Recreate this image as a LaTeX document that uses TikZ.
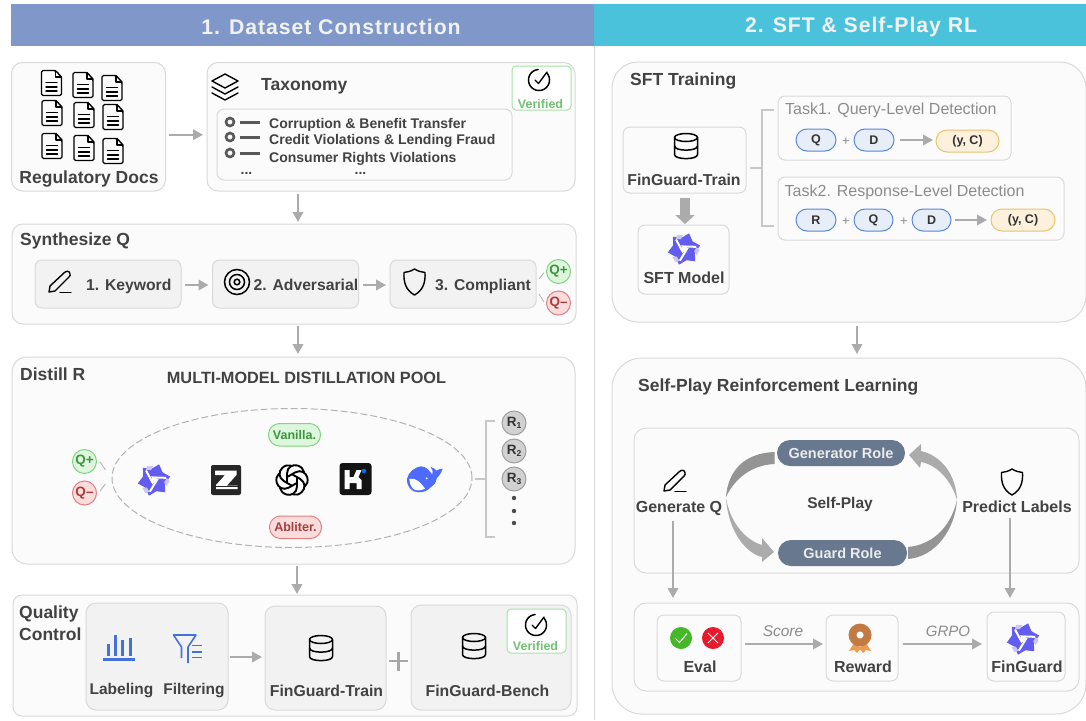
\documentclass[tikz,border=0pt]{standalone}
\usepackage{fontspec}
\setmainfont{Liberation Sans}
\newfontfamily\hdrfont[LetterSpace=4.5]{Liberation Sans}
\usetikzlibrary{arrows.meta,shapes.geometric,calc}
\definecolor{txtc}{HTML}{424242}
\definecolor{panelb}{HTML}{D9D9D9}
\definecolor{panelf}{HTML}{FBFBFB}
\definecolor{innerf}{HTML}{F2F2F2}
\definecolor{arrc}{HTML}{ABABAB}
\definecolor{qwenc}{HTML}{625CF0}
\definecolor{blueic}{HTML}{4472D8}
\definecolor{greenb}{HTML}{7FD67F}
\definecolor{greenf}{HTML}{DDF6DD}
\definecolor{greent}{HTML}{3C963C}
\definecolor{redb}{HTML}{E28080}
\definecolor{redf}{HTML}{FBDCDC}
\definecolor{redt}{HTML}{A63C3C}
\definecolor{roleb}{HTML}{67788F}
\definecolor{h1c}{HTML}{7F97C9}
\definecolor{h2c}{HTML}{4BC2DB}
\definecolor{pillb}{HTML}{5A86D8}
\definecolor{pillf}{HTML}{E8EEF8}
\definecolor{ypb}{HTML}{E8C36A}
\definecolor{ypf}{HTML}{FDF0DC}
\definecolor{whalec}{HTML}{4D6BFE}
\definecolor{medalc}{HTML}{C27A42}
\definecolor{ribbonc}{HTML}{F09A50}
\definecolor{kdot}{HTML}{0A6CFF}
\definecolor{okc}{HTML}{45B82A}
\definecolor{noc}{HTML}{E8192C}
\newcommand\fsz[1]{\fontsize{#1}{#1}\selectfont}
\newcommand\bx[7][]{%
  \pgfmathsetmacro\bw{#5-#3}\pgfmathsetmacro\bh{#6-#4}%
  \node[#1,anchor=north west,minimum width=\bw pt,minimum height=\bh pt,inner sep=0pt,outer sep=0pt] (#2) at (#3,#4) {#7};}
\tikzset{
  x=1pt,y=-1pt,
  panel/.style={draw=panelb,fill=panelf,line width=1pt,rounded corners=11pt},
  bigpanel/.style={draw=panelb,fill=panelf,line width=1pt,rounded corners=26pt},
  inner/.style={draw=panelb,fill=innerf,line width=1pt,rounded corners=7pt},
  whitebox/.style={draw=panelb,fill=panelf,line width=1pt,rounded corners=7pt},
  verbox/.style={draw=greenb!70,fill=white,line width=1pt,rounded corners=4pt},
  t/.style={text=txtc,font=\bfseries\fsz{16},inner sep=0pt,anchor=mid,yshift=-3pt},
  tw/.style={t,anchor=mid west},
  arr/.style={draw=arrc,line width=2pt,-{Triangle[length=10pt,width=10.5pt]}},
  qp/.style={circle,draw=greenb,fill=greenf,text=greent,line width=1pt,font=\bfseries\fsz{13.5},minimum size=24pt,inner sep=0pt},
  qm/.style={circle,draw=redb,fill=redf,text=redt,line width=1pt,font=\bfseries\fsz{13.5},minimum size=24pt,inner sep=0pt},
  rc/.style={circle,draw=gray!75,fill=black!18,text=black!80,font=\bfseries\fsz{13.5},line width=1pt,minimum size=24pt,inner sep=0pt},
  bp/.style={draw=pillb,fill=pillf,line width=1pt,rounded corners=11pt,font=\bfseries\fsz{12.5},text=black!80},
  yp/.style={draw=ypb,fill=ypf,line width=1pt,rounded corners=11pt,font=\bfseries\fsz{12.5},text=black!80},
  role/.style={fill=roleb,rounded corners=13pt,text=white!92!black,font=\bfseries\fsz{14.5}},
  ic/.style={draw=black,line width=1.4pt,line join=round,line cap=round},
  pics/docicon/.style={code={
    \draw[ic,rounded corners=1.5pt] (-10,-12.5)--(4,-12.5)--(10,-6)--(10,12.5)--(-10,12.5)--cycle;
    \draw[ic] (4,-12.5)--(4,-6)--(10,-6) (-5.5,-0.5)--(5.5,-0.5) (-5.5,3.8)--(5.5,3.8) (-5.5,8)--(5.5,8);}},
  pics/layers/.style={code={
    \draw[ic] (0,-13)--(13,-6)--(0,1)--(-13,-6)--cycle (-13,0)--(0,7)--(13,0) (-13,6)--(0,13)--(13,6);}},
  pics/vercheck/.style={code={
    \draw[ic,line width=1.5pt] plot[smooth,samples=40,domain=-40:265] ({10.5*cos(\x)},{10.5*sin(\x)});
    \draw[ic,line width=1.4pt] (-4,0)--(-0.5,3.5)--(8,-8);}},
  pics/penicon/.style={code={
    \draw[ic] (-11,10)--(-10,4)--(4.5,-9.5) .. controls (6.5,-11.5) and (10,-11) .. (10,-8) .. controls (10.5,-7) and (10,-6) .. (9,-5)--(-5,9)--cycle;
    \draw[ic] (0,10.5)--(11,10.5);}},
  pics/targeticon/.style={code={
    \draw[black,line width=1.5pt] (0,0) circle (12.5pt) (0,0) circle (7.5pt) (0,0) circle (2.8pt);}},
  pics/shieldicon/.style={code={
    \draw[ic] (0,-13) .. controls (4,-10.5) and (7,-10) .. (10.5,-9.5) .. controls (11,0) and (9,8) .. (0,13) .. controls (-9,8) and (-11,0) .. (-10.5,-9.5) .. controls (-7,-10) and (-4,-10.5) .. (0,-13)--cycle;}},
  pics/dbicon/.style={code={
    \draw[ic,line width=1.5pt] (0,-8.5) ellipse (11.5pt and 4pt);
    \draw[ic,line width=1.5pt] (-11.5,-8.5)--(-11.5,8.5) .. controls (-11.5,14) and (11.5,14) .. (11.5,8.5)--(11.5,-8.5);
    \draw[ic,line width=1.5pt] (-11.5,0) .. controls (-11.5,5.5) and (11.5,5.5) .. (11.5,0);}},
  pics/qwen/.style={code={
    \fill[qwenc,rotate=12] plot[samples at={0,30,...,330}] ({(14+2.5*cos(6*\x))*cos(\x)},{(14+2.5*cos(6*\x))*sin(\x)})--cycle;
    \foreach \a in {0,120,240}{
      \draw[white,line width=2pt,rotate=\a] (-8,-9.5)--(-1.5,2.5)--(2.5,-3);
      \fill[qwenc!35!white,rotate=\a] (-7,-14)--(-1,-14)--(-3,-10)--(-8,-10)--cycle;}}},
  pics/zlogo/.style={code={
    \fill[black!85,rounded corners=2pt] (-15,-15) rectangle (15,15);
    \fill[white] (-11,-9.5)--(10.5,-9.5)--(10.5,-5)--(1,5.5)--(11.5,5.5)--(11.5,9)--(-10,9)--(-10,5)--(-1,-5)--(-11,-5)--cycle;
    \fill[black!85] (-10,6.3) rectangle (11.5,7.1);}},
  pics/gptlogo/.style={code={
    \foreach \a in {0,60,...,300}{
      \draw[black,line width=1.9pt,rotate=\a,line cap=round] (-5,3)--(-5,-6.5) .. controls (-5,-13) and (1,-16) .. (5.5,-14.5) .. controls (9,-13.5) and (11.5,-11) .. (12,-8);}}},
  pics/klogo/.style={code={
    \fill[black!92,rounded corners=3pt] (-16,-16) rectangle (16,16);
    \fill[white] (-11,-9)--(-6,-9)--(-6,-2)--(-2,-2)--(1,-9)--(6,-9)--(3,-2)--(6,1)--(6,10)--(1,10)--(1,4)--(-6,4)--(-6,10)--(-11,10)--cycle;
    \fill[kdot] (8.5,-8) circle (2.2pt);}},
  pics/whale/.style={code={
    \begin{scope}[scale=.3333,shift={(-75,-75)}]
    \fill[whalec] (21,72) .. controls (24,52) and (45,36) .. (62,34) .. controls (78,33) and (90,48) .. (97,60) .. controls (101,52) and (97,42) .. (92,36) .. controls (100,38) and (106,42) .. (110,47) .. controls (115,43) and (121,41) .. (128,41) .. controls (124,54) and (116,64) .. (110,70) .. controls (108,85) and (100,92) .. (92,97) .. controls (84,106) and (72,112) .. (55,112) .. controls (35,112) and (20,95) .. (21,72)--cycle;
    \fill[white] (28,72) .. controls (45,66) and (62,82) .. (75,101) .. controls (62,108) and (46,108) .. (38,100) .. controls (31,93) and (28,82) .. (28,72)--cycle;
    \fill[white] (80,70) circle (3pt);
    \end{scope}}},
  pics/medal/.style={code={
    \fill[ribbonc] (-6,8)--(1,13)--(-3,18)--(-6,15)--(-11,16)--cycle;
    \fill[ribbonc] (6,8)--(-1,13)--(3,18)--(6,15)--(11,16)--cycle;
    \fill[medalc] (0,0) circle (11.5pt);
    \fill[white] plot[samples at={0,36,...,324}] ({(3.5+2*cos(5*(\x+90)))*cos(\x)},{(3.5+2*cos(5*(\x+90)))*sin(\x)})--cycle;}},
}
\begin{document}
\begin{tikzpicture}
\useasboundingbox (0,0) rectangle (1086,720);
\fill[white] (0,0) rectangle (1086,720);
\begin{scope}
\clip (0,0) rectangle (1086,720);
% headers
\bx[fill=h1c]{h1}{11}{4}{594}{46}{}
\bx[fill=h2c]{h2}{594}{4}{1086}{46}{}
\node[inner sep=0pt,text=white!95!black] (h1t) at (331,27) {\hdrfont\bfseries\fsz{21.2}1. Dataset Construction};
\node[inner sep=0pt,text=white!95!black] (h2t) at (861,27) {\hdrfont\bfseries\fsz{21.2}2. SFT \& Self-Play RL};
\draw[panelb,line width=.8pt] (594.5,46)--(594.5,720);

% Regulatory Docs
\bx[panel]{docs}{11.5}{62.5}{165.5}{191}{}
\pic at (51.5,83) {docicon}; \pic at (83,85) {docicon}; \pic at (112,88) {docicon};
\pic at (52,113) {docicon}; \pic at (84,115) {docicon}; \pic at (113,117) {docicon};
\pic at (52,146) {docicon}; \pic at (84,148) {docicon}; \pic at (113,151) {docicon};
\node[t,font=\bfseries\fsz{17.5}] (docst) at (89,178) {Regulatory Docs};

% Taxonomy
\bx[panel]{tax}{207}{62.5}{575}{191}{}
\pic at (225,87) {layers};
\node[tw,font=\bfseries\fsz{17.5}] (taxt) at (261,85) {Taxonomy};
\bx[whitebox,fill=panelf]{list}{217}{109}{512}{180}{}
\bx[verbox]{ver1}{512}{66}{571}{110}{}
\pic at (539,80) {vercheck};
\node[t,text=greenb!90!black,font=\bfseries\fsz{12.5}] (ver1t) at (540.5,102.5) {Verified};
\foreach \yy in {122,137,153}{
  \draw[black!65,line width=2.6pt] (230,\yy) circle (4pt);
  \draw[black!65,line width=3pt] (240,\yy)--(260,\yy);
}
\node[tw,font=\bfseries\fsz{14}] (l1) at (269,123) {Corruption \& Benefit Transfer};
\node[tw,font=\bfseries\fsz{14}] (l2) at (269,139) {Credit Violations \& Lending Fraud};
\node[tw,font=\bfseries\fsz{14}] (l3) at (269,157) {Consumer Rights Violations};
\node[t,font=\bfseries\fsz{14}] (l4) at (246.5,169) {...};
\node[t,font=\bfseries\fsz{14}] (l5) at (360.5,169) {...};

% Synthesize
\bx[panel]{syn}{12}{224}{576}{324}{}
\node[tw,font=\bfseries\fsz{17.5}] (synt) at (20,240) {Synthesize Q};
\bx[inner]{k1}{35}{260}{181}{308}{}
\bx[inner]{k2}{212.5}{260}{358.5}{308}{}
\bx[inner]{k3}{390}{260}{536}{308}{}
\pic at (60,282) {penicon};
\pic at (237,282) {targeticon};
\pic at (414.5,282) {shieldicon};
\node[tw,font=\bfseries\fsz{15.7}] (k1t) at (86,285) {1. Keyword};
\node[tw,font=\bfseries\fsz{15.7}] (k2t) at (253.5,285) {2. Adversarial};
\node[tw,font=\bfseries\fsz{15.7}] (k3t) at (435,285) {3. Compliant};
\node[qp] (qp1) at (558.5,271.5) {Q+};
\node[qm] (qm1) at (558.5,303) {Q–};
\draw[black!30,line width=.8pt] (539,279)--(544,272.5) (539,294)--(544,302);

% Distill
\bx[panel,rounded corners=15pt]{dist}{12}{357}{575}{564}{}
\node[tw,font=\bfseries\fsz{17.5}] (distt) at (20,375) {Distill R};
\node[t,font=\bfseries\fsz{16.3}] (poolt) at (306.5,378) {MULTI-MODEL DISTILLATION POOL};
\node[ellipse,draw=black!30,line width=1pt,dash pattern=on 7pt off 3pt,minimum width=360pt,minimum height=139pt,inner sep=0pt] (pool) at (292,478) {};
\bx[draw=greenb,fill=greenf,line width=1pt,rounded corners=11pt,text=greent,font=\bfseries\fsz{12.5}]{van}{268.5}{423.5}{320.5}{446}{Vanilla.}
\bx[draw=redb,fill=redf,line width=1pt,rounded corners=11pt,text=redt,font=\bfseries\fsz{12.5}]{abl}{269.5}{516}{321.5}{538.5}{Abliter.}
\node[qp] (qp2) at (84.5,461.5) {Q+};
\node[qm] (qm2) at (84.5,493) {Q–};
\draw[black!30,line width=.8pt] (100,462)--(105.5,470) (105.5,484)--(100,491);
\pic at (154,480) {qwen};
\pic at (226,480) {zlogo};
\pic at (292,480) {gptlogo};
\pic at (355.5,479) {klogo};
\pic at (425,480) {whale};
\draw[black!22,line width=2pt] (475,479)--(486,479) (495,421)--(486,421)--(486,537)--(495,537);
\node[rc] (r1) at (514,423) {R\raisebox{-2.5pt}{\fsz{8.5}1}};
\node[rc] (r2) at (514,451) {R\raisebox{-2.5pt}{\fsz{8.5}2}};
\node[rc] (r3) at (514,479) {R\raisebox{-2.5pt}{\fsz{8.5}3}};
\foreach \yy in {498,511,523}{\fill[black!70] (514,\yy) circle (2.2pt);}

% Quality control
\bx[panel,rounded corners=9pt]{qc}{13}{595}{577}{716}{}
\node[t,anchor=mid west,font=\bfseries\fsz{17.5}] (qct1) at (19,613) {Quality};
\node[t,anchor=mid west,font=\bfseries\fsz{17.5}] (qct2) at (19,635) {Control};
\bx[inner,rounded corners=10pt]{lab}{86}{603}{228}{710}{}
\bx[inner,rounded corners=10pt]{train}{265}{606}{386}{710}{}
\bx[inner,rounded corners=10pt]{bench}{411}{605}{571}{710}{}
\bx[verbox]{ver2}{507}{609}{566}{653}{}
\pic at (536,625) {vercheck};
\node[t,text=greenb!90!black,font=\bfseries\fsz{12.5}] (ver2t) at (535.5,645) {Verified};
\fill[blueic] (103,657.5) rectangle (135,660.5);
\foreach \xx/\yy in {108/643.5,115/635,122.8/640,130/637.5}{\fill[blueic] (\xx-1.5,\yy) rectangle (\xx+1.5,655.5);}
\draw[blueic,line width=1.6pt,line join=round] (181.5,658)--(181.5,647)--(173.5,635)--(196,635)--(188,647)--(188,663);
\draw[blueic,line width=1.6pt] (192,645.5)--(201.5,645.5) (192,652)--(201.5,652) (192,657.5)--(201.5,657.5);
\pic at (321,648) {dbicon};
\pic at (474,646) {dbicon};
\node[t,font=\bfseries\fsz{15.5}] (labt) at (121.5,689) {Labeling};
\node[t,font=\bfseries\fsz{15.5}] (filt) at (194,689) {Filtering};
\node[t,font=\bfseries\fsz{15.8}] (trt) at (326.5,691) {FinGuard-Train};
\node[t,font=\bfseries\fsz{15.8}] (bet) at (487.5,691) {FinGuard-Bench};
\draw[black!35,line width=2.4pt] (389,661)--(408,661) (398.5,651.5)--(398.5,670.5);

% left connectors
\coordinate (cola) at (298,0);
\coordinate (colb) at (297,0);
\coordinate (rowq) at (0,657);
\draw[arr] ([xshift=3pt,yshift=-8pt]docs.east)--([xshift=-4pt,yshift=-8pt]tax.west);
\draw[arr] ([yshift=-3pt]tax.south -| cola)--([yshift=2pt]syn.north -| cola);
\draw[arr] ([xshift=4pt,yshift=-1pt]k1.east)--([xshift=-4pt,yshift=-1pt]k2.west);
\draw[arr] ([xshift=4pt,yshift=-1pt]k2.east)--([xshift=-4pt,yshift=-1pt]k3.west);
\draw[arr] ([yshift=-2pt]syn.south -| cola)--([yshift=3pt]dist.north -| cola);
\draw[arr] ([yshift=-2pt]dist.south -| colb)--([yshift=1pt]qc.north -| colb);
\draw[arr] ([xshift=1.5pt]lab.east |- rowq)--([xshift=-3pt]train.west |- rowq);

% SFT panel
\bx[bigpanel]{sft}{612}{62}{1086}{322}{}
\node[tw,font=\bfseries\fsz{17.5}] (sftt) at (630,80) {SFT Training};
\bx[whitebox]{fgt}{623}{127}{746}{193}{}
\pic at (686,146) {dbicon};
\node[t,font=\bfseries\fsz{15.8}] (fgtt) at (684,180) {FinGuard-Train};
\bx[whitebox]{sftm}{638}{225}{729}{294}{}
\pic at (684,249) {qwen};
\node[t,font=\bfseries\fsz{16}] (sftmt) at (684,278) {SFT Model};
\draw[draw=arrc,line width=9.5pt,-{Triangle[length=9pt,width=19pt]}] ([xshift=.5pt,yshift=-5pt]fgt.south)--([xshift=1.5pt,yshift=1pt]sftm.north);
\draw[black!22,line width=2pt] (750,168)--(762,168) (774,110)--(762,110)--(762,226)--(774,226);
\bx[whitebox]{tk1}{778}{96}{1011}{160}{}
\bx[whitebox]{tk2}{778}{177}{1064}{240}{}
\node[tw,text=black!45,font=\fsz{16}] (tk1t) at (785,109) {Task1. Query-Level Detection};
\node[tw,text=black!45,font=\fsz{16}] (tk2t) at (784.5,191) {Task2. Response-Level Detection};
\bx[bp]{pq1}{796}{129}{836}{151}{Q}
\bx[bp]{pd1}{854}{129}{894}{151}{D}
\bx[yp]{py1}{936}{130}{999}{152}{(y, C)}
\node[text=black!45,font=\fsz{13},inner sep=0pt] (pl1) at (846,141.5) {+};
\draw[arr] ([xshift=6pt]pd1.east)--([xshift=-3pt]py1.west |- pd1.east);
\bx[bp]{pr2}{796}{209}{836}{231}{R}
\bx[bp]{pq2}{854}{209}{893}{231}{Q}
\bx[bp]{pd2}{912}{209}{951}{231}{D}
\bx[yp]{py2}{991}{209}{1055}{231}{(y, C)}
\node[text=black!45,font=\fsz{13},inner sep=0pt] (pl2) at (846,221.5) {+};
\node[text=black!45,font=\fsz{13},inner sep=0pt] (pl3) at (904,221.5) {+};
\draw[arr] ([xshift=4pt]pd2.east)--([xshift=-4pt]py2.west);

% Self-play panel
\bx[bigpanel,rounded corners=30pt]{spp}{612}{358}{1086}{714}{}
\coordinate (colc) at (857,0);
\draw[arr] ([yshift=-4pt]sft.south -| colc)--([yshift=4pt]spp.north -| colc);
\node[tw,font=\bfseries\fsz{17.5}] (sppt) at (638,386) {Self-Play Reinforcement Learning};
\bx[whitebox,rounded corners=12pt]{inr}{634}{428}{1079}{573}{}
\bx[role]{gen}{777}{440}{905}{466}{Generator Role}
\bx[role]{grd}{778}{540}{907}{566}{Guard Role}
\node[t,font=\bfseries\fsz{15.5}] (selft) at (840,503) {Self-Play};
\fill[black!42] (774.5,452) .. controls (745,453) and (728,470) .. (726,497) .. controls (735,478) and (752,465) .. (774.5,464)--cycle;
\fill[arrc] (726,498) .. controls (728,530) and (745,553) .. (762,557)--(762,562)--(774,552)--(762,538)--(762,545) .. controls (745,540) and (730,522) .. (726,498)--cycle;
\fill[black!42] (908,547) .. controls (930,545) and (950,530) .. (957,500) .. controls (955,530) and (935,557) .. (908,559)--cycle;
\fill[arrc] (921,451) .. controls (942,456) and (956,475) .. (957,500) .. controls (952,482) and (938,465) .. (921,462)--(920,468)--(909,455)--(921,444)--cycle;
\pic at (675,481) {penicon};
\pic at (1012,482) {shieldicon};
\node[t] (genq) at (679,507) {Generate Q};
\node[t] (pred) at (1017,507) {Predict Labels};
\bx[whitebox,rounded corners=12pt]{low}{634}{603}{1079}{691}{}
\bx[whitebox]{eval}{657}{615}{741}{681}{}
\bx[whitebox]{rew}{826}{615}{898}{681}{}
\bx[whitebox]{fing}{987}{612}{1065}{681}{}
\coordinate (colg) at (673,0);
\coordinate (colp) at (1010,0);
\coordinate (rowa) at (0,644);
\draw[arr] ([yshift=-5pt]genq.south -| colg)--([yshift=5pt]low.north -| colg);
\draw[arr] ([yshift=-5pt]pred.south -| colp)--([yshift=5pt]low.north -| colp);
\fill[okc] (681,638) circle (11pt);
\draw[white,line width=1pt] (675.5,638.5)--(679.5,642.5)--(687,633.5);
\fill[noc] (713,638) circle (11pt);
\draw[white,line width=1pt] (708,633)--(718,643) (718,633)--(708,643);
\node[t] (evalt) at (700,667) {Eval};
\pic at (860,635) {medal};
\node[t] (rewt) at (863,667) {Reward};
\pic at (1023,639) {qwen};
\node[t] (fingt) at (1027,667) {FinGuard};
\draw[arr] ([xshift=4pt]eval.east |- rowa)--([xshift=-3pt]rew.west |- rowa);
\draw[arr] ([xshift=5pt]rew.east |- rowa)--([xshift=-5pt]fing.west |- rowa);
\node[text=black!45,font=\itshape\fsz{15.5},inner sep=0pt] (scoret) at (783,631) {Score};
\node[text=black!45,font=\itshape\fsz{15},inner sep=0pt] (grpot) at (948,631) {GRPO};
\end{scope}
\end{tikzpicture}
\end{document}
